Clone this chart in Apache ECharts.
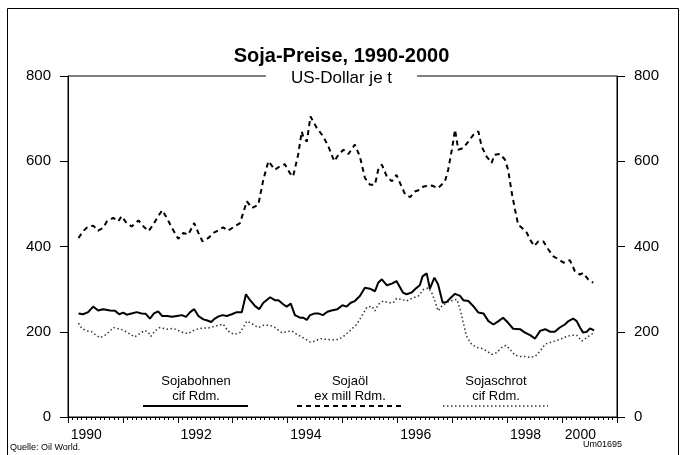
<!DOCTYPE html>
<html><head><meta charset="utf-8">
<script src="https://cdn.jsdelivr.net/npm/echarts@6/dist/echarts.min.js"></script>
<style>html,body{margin:0;padding:0;background:#fff}#c{width:683px;height:455px}</style>
</head><body><div id="c"></div>
<script>
// x values: months counted from January 1990 (0 = Jan 1990)
const beansMonth = [2.3,3.3,4.4,5.5,6.6,7.7,9.2,10.3,11.2,12.1,12.8,13.9,15.0,16.1,17.0,17.9,18.8,19.7,20.6,21.7,22.7,23.8,24.9,25.8,26.7,27.6,28.5,29.6,30.3,31.3,32.1,32.9,33.8,34.7,35.8,36.9,38.0,38.9,39.8,40.9,41.8,42.7,44.2,45.2,46.0,47.1,47.8,48.7,49.6,50.7,51.4,52.2,52.9,54.0,54.7,55.7,56.7,57.6,58.9,60.0,60.9,61.8,62.7,63.8,64.9,66.0,67.1,67.8,68.6,69.7,70.8,71.8,73.2,74.0,75.1,76.2,76.9,77.5,78.4,79.1,80.1,80.9,81.9,82.8,83.5,84.6,85.7,86.4,87.5,88.6,89.7,90.8,91.9,93.0,94.1,95.1,96.2,97.3,98.8,99.9,101.0,102.1,103.2,104.3,105.4,106.4,107.5,108.6,109.4,110.4,111.2,111.9,112.6,113.4,114.1,115.0];
const beansValue = [243,241,246,259,250,253,250,249,241,245,240,243,246,243,242,231,243,248,237,237,235,237,239,235,246,253,237,229,227,223,231,236,239,237,241,246,246,288,274,260,253,268,281,274,274,264,259,266,239,233,233,228,239,243,243,239,247,250,253,262,259,268,272,284,303,301,295,315,323,309,313,319,292,288,292,303,309,330,337,301,327,311,268,270,278,289,284,274,272,260,245,243,225,217,225,233,221,207,206,198,192,184,202,206,200,200,210,217,225,231,225,210,198,200,208,203];

const oilMonth = [2.3,3.3,4.1,5.5,6.6,7.7,8.5,9.9,11.0,11.7,12.8,13.9,15.4,16.5,17.6,18.6,19.7,20.6,21.6,22.7,24.1,25.2,26.3,27.6,28.5,29.4,30.7,31.8,32.9,33.9,35.0,36.1,37.6,38.3,39.1,40.2,41.6,42.7,43.8,45.2,46.3,47.4,48.5,49.2,50.3,51.1,51.4,52.2,53.0,54.4,55.8,56.9,58.2,59.1,60.2,61.3,62.7,63.8,64.9,66.0,67.1,67.8,68.6,69.7,70.8,71.8,72.9,73.7,74.8,75.8,76.9,77.7,79.5,80.9,82.4,83.1,83.9,84.6,85.3,86.4,87.5,88.6,89.7,90.4,91.5,92.6,93.2,94.4,95.5,96.2,97.0,97.7,98.4,99.2,100.3,101.0,101.9,102.8,103.9,105.0,106.1,107.2,108.3,109.7,110.8,111.9,112.6,113.7,114.8];
const oilValue = [420,436,444,449,437,444,459,467,459,471,455,447,461,447,436,451,471,485,467,444,418,432,428,455,432,412,420,432,438,445,437,445,455,479,506,490,498,557,600,580,588,593,572,564,615,670,658,646,705,678,658,635,600,615,627,617,639,611,561,545,545,580,592,564,553,568,541,522,516,529,533,541,543,537,553,580,627,674,627,631,646,662,670,635,611,596,615,617,604,580,526,487,451,444,432,416,401,412,412,393,377,370,362,368,342,334,338,323,315];

const mealMonth = [2.3,3.0,4.1,5.2,5.9,7.0,8.1,9.2,9.9,11.0,12.1,13.6,14.6,15.7,16.8,17.6,18.1,19.0,20.1,21.6,23.0,24.1,25.2,26.3,27.4,28.5,29.6,30.7,31.8,32.9,33.9,34.7,35.4,36.5,37.6,38.3,39.1,40.2,41.6,42.7,44.2,45.2,46.7,47.8,48.9,50.0,51.4,52.9,54.0,55.1,56.5,58.0,59.1,60.2,61.6,63.1,64.2,65.3,66.4,67.1,67.8,68.9,70.0,71.1,71.8,72.9,74.0,75.5,76.6,77.7,78.8,79.5,80.2,80.9,81.7,82.8,83.5,85.0,85.7,86.4,87.1,88.2,89.3,90.4,91.5,92.6,93.7,94.8,95.7,96.6,97.7,98.8,99.9,101.0,102.1,103.2,104.3,105.4,106.4,107.5,109.0,110.1,111.2,112.3,113.4,114.1,114.8];
const mealValue = [220,208,202,200,194,186,192,202,210,207,204,194,188,196,203,198,189,202,210,206,208,203,198,196,203,207,209,209,212,215,218,206,198,194,198,210,225,219,210,215,215,210,198,200,202,194,186,176,178,184,182,181,182,189,202,217,237,257,260,249,264,272,268,268,278,276,272,280,284,299,303,292,272,249,260,268,272,276,253,221,190,171,163,161,155,147,151,163,168,159,145,142,142,140,142,155,171,175,178,182,189,192,192,178,186,192,196];

const yTicks = [0,200,400,600,800];
const yearLabels = ['1990','1992','1994','1996','1998','2000'];
const yearLabelMonths = [4,28,52,76,100,112];

const zip = (a,b) => a.map((x,i)=>[x,b[i]]);
const FONT = '"Liberation Sans", Arial, sans-serif';

const chart = echarts.init(document.getElementById('c'), null, {renderer:'canvas'});
const yAxisCommon = {
  type:'value', min:yTicks[0], max:yTicks[yTicks.length-1], interval:200,
  axisLine:{show:true, lineStyle:{color:'#000', width:1}},
  axisTick:{show:true, length:8, inside:false, lineStyle:{color:'#000'}},
  splitLine:{show:false},
  axisLabel:{color:'#000', fontSize:15, fontFamily:FONT, margin:17}
};
chart.setOption({
  animation:false,
  backgroundColor:'#fff',
  title:[
    {text:'Soja-Preise, 1990-2000', left:'center', top:46, padding:0,
     textStyle:{fontSize:20, fontWeight:'bold', color:'#000', fontFamily:FONT}},
    {text:'US-Dollar je t', left:'center', top:69, padding:[0,25], backgroundColor:'#fff', z:10,
     textStyle:{fontSize:17, fontWeight:'normal', color:'#000', fontFamily:FONT, lineHeight:19}}
  ],
  grid:{left:68, right:66, top:76, bottom:38, show:true, borderColor:'#000', borderWidth:1, containLabel:false},
  xAxis:{
    type:'value', min:0, max:120, interval:12,
    axisLine:{show:true, onZero:false, lineStyle:{color:'#000'}},
    axisTick:{show:true, length:6, lineStyle:{color:'#000'}},
    minorTick:{show:true, splitNumber:12, length:3, lineStyle:{color:'#000'}},
    splitLine:{show:false},
    axisLabel:{show:true, customValues:yearLabelMonths, color:'#000', fontSize:14, fontFamily:FONT, margin:11,
      formatter:(v)=>{const i=yearLabelMonths.indexOf(v); return i>=0?yearLabels[i]:'';}}
  },
  yAxis:[
    Object.assign({position:'left'}, yAxisCommon),
    Object.assign({position:'right'}, yAxisCommon)
  ],
  series:[
    {name:'Sojabohnen cif Rdm.', type:'line', data:zip(beansMonth,beansValue), showSymbol:false, symbol:'none',
     lineStyle:{color:'#000', width:2, type:'solid'}},
    {name:'Sojaöl ex mill Rdm.', type:'line', data:zip(oilMonth,oilValue), showSymbol:false, symbol:'none',
     lineStyle:{color:'#000', width:2, type:[5,4]}},
    {name:'Sojaschrot cif Rdm.', type:'line', data:zip(mealMonth,mealValue), showSymbol:false, symbol:'none',
     lineStyle:{color:'#333', width:1.5, type:[1.5,2.5]}}
  ],
  graphic:[
    {type:'rect', shape:{x:7.5,y:8.5,width:671,height:470}, style:{fill:null, stroke:'#000', lineWidth:1}, silent:true},
    {type:'text', style:{text:'Sojabohnen\ncif Rdm.', x:196, y:374, textAlign:'center', font:'13px '+FONT, fill:'#000', lineHeight:15}},
    {type:'line', shape:{x1:143,y1:406,x2:248,y2:406}, style:{stroke:'#000', lineWidth:2}},
    {type:'text', style:{text:'Sojaöl\nex mill Rdm.', x:350, y:374, textAlign:'center', font:'13px '+FONT, fill:'#000', lineHeight:15}},
    {type:'line', shape:{x1:297,y1:406,x2:402,y2:406}, style:{stroke:'#000', lineWidth:2, lineDash:[5,4]}},
    {type:'text', style:{text:'Sojaschrot\ncif Rdm.', x:496, y:374, textAlign:'center', font:'13px '+FONT, fill:'#000', lineHeight:15}},
    {type:'line', shape:{x1:443,y1:406,x2:548,y2:406}, style:{stroke:'#333', lineWidth:1.5, lineDash:[1.5,2.5]}},
    {type:'text', style:{text:'Quelle: Oil World.', x:10, y:443, font:'9px '+FONT, fill:'#000'}},
    {type:'text', style:{text:'Um01695', x:583, y:440, font:'9px '+FONT, fill:'#000'}}
  ]
});
</script></body></html>
